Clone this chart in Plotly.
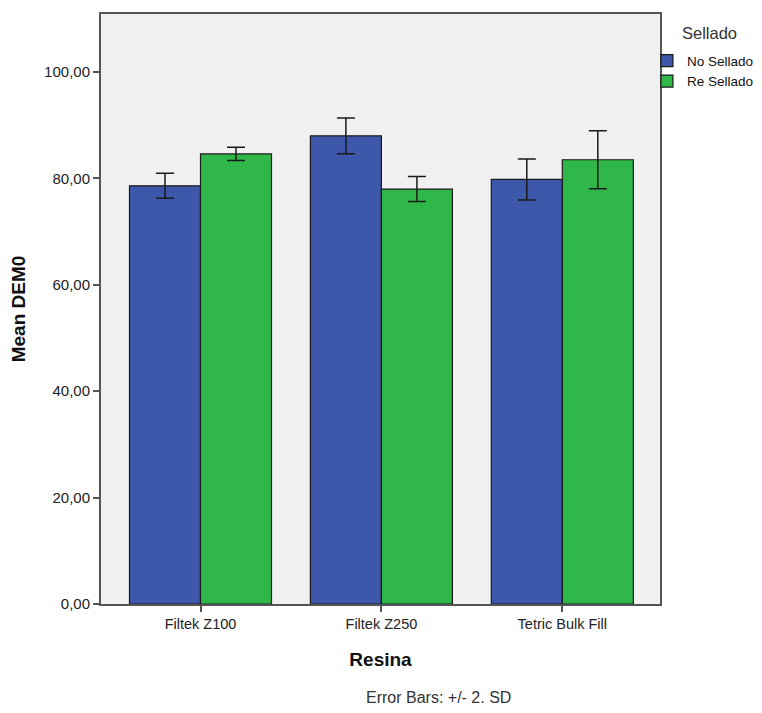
import plotly.graph_objects as go

categories = ["Filtek Z100", "Filtek Z250", "Tetric Bulk Fill"]
no_sellado = [78.6, 88.0, 79.8]
no_sellado_err = [2.35, 3.35, 3.85]
re_sellado = [84.6, 78.0, 83.5]
re_sellado_err = [1.25, 2.35, 5.45]
y_ticks = [0, 20, 40, 60, 80, 100]
y_tick_labels = ["0,00", "20,00", "40,00", "60,00", "80,00", "100,00"]

FONT = "Liberation Sans, Arial, sans-serif"

fig = go.Figure()
fig.add_trace(go.Bar(
    x=categories, y=no_sellado, name="No Sellado",
    marker=dict(color="#3d57aa", line=dict(color="#1a1a1a", width=1.2)),
    error_y=dict(type="data", array=no_sellado_err, visible=True,
                 color="#1a1a1a", thickness=1.5, width=9),
))
fig.add_trace(go.Bar(
    x=categories, y=re_sellado, name="Re Sellado",
    marker=dict(color="#2fb849", line=dict(color="#1a1a1a", width=1.2)),
    error_y=dict(type="data", array=re_sellado_err, visible=True,
                 color="#1a1a1a", thickness=1.5, width=9),
))

fig.update_layout(
    width=746, height=697,
    barmode="group", bargap=0.215, bargroupgap=0,
    paper_bgcolor="white", plot_bgcolor="#f0f0f0",
    margin=dict(l=93, r=94, t=6, b=101, autoexpand=False),
    font=dict(family=FONT, size=14, color="#222222"),
    legend=dict(
        x=1.177, y=0.947, xanchor="right", yanchor="top",
        font=dict(size=13.5, color="#111111"),
        bgcolor="rgba(0,0,0,0)", tracegroupgap=0, itemwidth=30,
    ),
    annotations=[
        dict(text="Sellado", xref="paper", yref="paper",
             x=1.0894, y=0.968, xanchor="center", yanchor="middle",
             showarrow=False, font=dict(size=16.5, color="#333333")),
        dict(text="Error Bars: +/- 2. SD", xref="paper", yref="paper",
             x=0.603, y=-0.1593, xanchor="center", yanchor="middle",
             showarrow=False, font=dict(size=16, color="#333333")),
    ],
)
fig.update_xaxes(
    range=[-0.55, 2.54],
    showline=True, linecolor="#555555", linewidth=2, mirror=True,
    ticks="outside", ticklen=6, tickcolor="#555555", tickwidth=2,
    tickfont=dict(size=14.5, color="#222222"),
    title=dict(text="<b>Resina</b>", font=dict(size=19, color="#111111"), standoff=21),
    showgrid=False,
)
fig.update_yaxes(
    range=[0, 110.9],
    tickvals=y_ticks, ticktext=y_tick_labels,
    showline=True, linecolor="#555555", linewidth=2, mirror=True,
    ticks="outside", ticklen=6, tickcolor="#555555", tickwidth=2,
    tickfont=dict(size=15, color="#222222"),
    title=dict(text="<b>Mean DEM0</b>", font=dict(size=19, color="#111111"), standoff=18),
    showgrid=False, zeroline=False,
)

fig.write_html("out.html")
